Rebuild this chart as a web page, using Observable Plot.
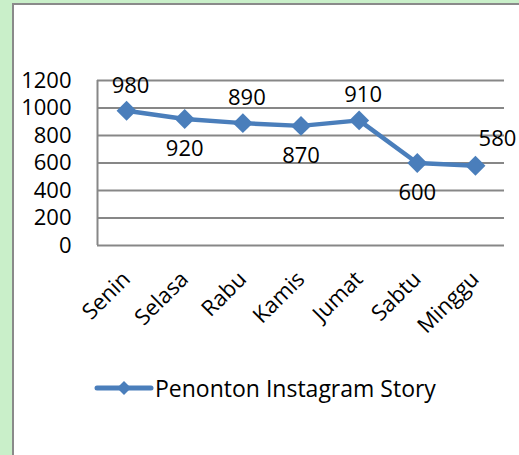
<!DOCTYPE html>
<html>
<head>
<meta charset="utf-8">
<script src="https://cdn.jsdelivr.net/npm/d3@7"></script>
<script src="https://cdn.jsdelivr.net/npm/@observablehq/plot@0.6"></script>
<style>
  html, body { margin: 0; padding: 0; width: 519px; height: 455px; overflow: hidden; background: #c9efc9; }
  #frame { position: absolute; left: 12px; top: 3px; width: 520px; height: 460px; background: #fff;
           border-left: 2px solid #8a8a8a; border-top: 2px solid #8a8a8a; }
  #chart { position: absolute; left: 0; top: 0; }
  #legend { position: absolute; left: 93px; top: 372px; display: flex; align-items: center;
            font-family: "Open Sans", sans-serif; font-size: 23px; color: #000; }
</style>
</head>
<body>
<div id="frame"></div>
<div id="chart"></div>
<div id="legend"></div>
<script>
const days = ["Senin", "Selasa", "Rabu", "Kamis", "Jumat", "Sabtu", "Minggu"];
const viewers = [980, 920, 890, 870, 910, 600, 580];
const yTicks = [0, 200, 400, 600, 800, 1000, 1200];
const seriesName = "Penonton Instagram Story";

// label placement (layout only)
const labelAbove = [true, false, true, false, true, false, true];

const blue = "#4a7ebb";
const grid = "#878787";
const font = "'Open Sans', sans-serif";

const rows = days.map((d, i) => ({i, day: d, v: viewers[i], above: labelAbove[i]}));
const last = days.length - 1;

const chart = Plot.plot({
  width: 519,
  height: 345,
  marginLeft: 97,
  marginRight: 15,
  marginTop: 80,
  marginBottom: 100,
  style: {background: "transparent", fontFamily: font, color: "#000"},
  x: {type: "linear", domain: [-0.5, days.length - 0.5]},
  y: {domain: [0, 1200]},
  marks: [
    Plot.gridY(yTicks, {stroke: grid, strokeOpacity: 1, strokeWidth: 2}),
    Plot.ruleX([-0.5], {stroke: grid, strokeWidth: 2}),
    Plot.axisY(yTicks, {tickSize: 0, tickPadding: 26, fontSize: 22, label: null, tickFormat: d => String(d)}),
    Plot.axisX(d3.range(days.length), {
      tickFormat: i => days[i], tickRotate: -45, tickSize: 0, tickPadding: 30,
      fontSize: 22, label: null, dx: 0
    }),
    Plot.line(rows, {x: "i", y: "v", stroke: blue, strokeWidth: 4.5, strokeLinejoin: "round"}),
    Plot.dot(rows, {x: "i", y: "v", symbol: "diamond2", r: 9, fill: blue, stroke: null}),
    Plot.text(rows.filter(d => d.above && d.i !== last), {x: "i", y: "v", text: d => String(d.v),
      dy: -25, dx: 4, fontSize: 22, fill: "#000"}),
    Plot.text(rows.filter(d => d.above && d.i === last), {x: "i", y: "v", text: d => String(d.v),
      dy: -27, dx: 22, fontSize: 22, fill: "#000"}),
    Plot.text(rows.filter(d => !d.above), {x: "i", y: "v", text: d => String(d.v),
      dy: 30, dx: 0, fontSize: 22, fill: "#000"})
  ]
});
document.getElementById("chart").appendChild(chart);

// legend
const leg = document.getElementById("legend");
const ns = "http://www.w3.org/2000/svg";
const ls = document.createElementNS(ns, "svg");
ls.setAttribute("width", 62); ls.setAttribute("height", 20);
ls.innerHTML = `<line x1="4" y1="10" x2="58" y2="10" stroke="${blue}" stroke-width="5" stroke-linecap="round"/>
<path d="M31,3 L38,10 L31,17 L24,10 Z" fill="${blue}"/>`;
leg.appendChild(ls);
const span = document.createElement("span");
span.textContent = seriesName;
leg.appendChild(span);
</script>
</body>
</html>
